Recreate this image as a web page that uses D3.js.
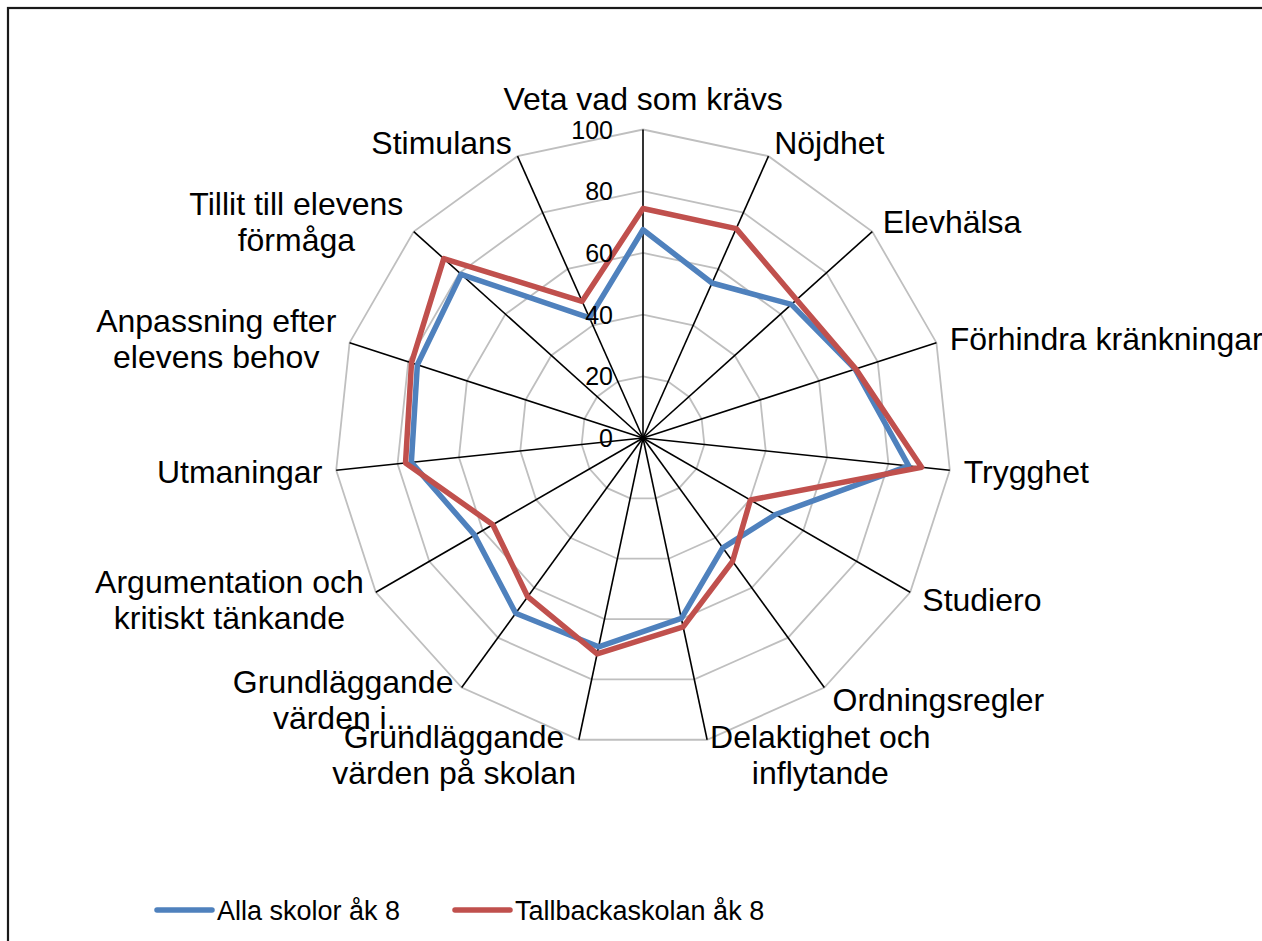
<!DOCTYPE html>
<html>
<head>
<meta charset="utf-8">
<script src="https://cdn.jsdelivr.net/npm/d3@7"></script>
<style>
  body { margin: 0; background: #ffffff; }
  svg { display: block; font-family: "Liberation Sans", Arial, sans-serif; }
</style>
</head>
<body>
<div id="radar"></div>
<script>
var categories = [
  "Veta vad som krävs",
  "Nöjdhet",
  "Elevhälsa",
  "Förhindra kränkningar",
  "Trygghet",
  "Studiero",
  "Ordningsregler",
  "Delaktighet och\ninflytande",
  "Grundläggande\nvärden på skolan",
  "Grundläggande\nvärden i...",
  "Argumentation och\nkritiskt tänkande",
  "Utmaningar",
  "Anpassning efter\nelevens behov",
  "Tillit till elevens\nförmåga",
  "Stimulans",
];

var alla_skolor = [67.5, 55, 64.7, 72.3, 86.6, 49.6, 44, 59.8, 69.2, 70.2, 63, 75.5, 76.9, 79.3, 42.6];
var tallbacka = [74.4, 74.3, 67, 72.5, 90.8, 40.2, 49.4, 62.6, 71.5, 63.6, 56.2, 77.4, 78.9, 86.9, 48.5];

var tick_values = [0, 20, 40, 60, 80, 100];

var series = [
  { name: "Alla skolor åk 8", values: alla_skolor, color: "#4f81bd" },
  { name: "Tallbackaskolan åk 8", values: tallbacka, color: "#c0504d" },
];

var width = 1262,
  height = 941,
  cx = 643,
  cy = 438,
  radius = 308.5;

var svg = d3
  .select("#radar")
  .append("svg")
  .attr("width", width)
  .attr("height", height)
  .attr("viewBox", [0, 0, width, height]);

// outer frame of the chart area
svg
  .append("rect")
  .attr("x", 8)
  .attr("y", 8)
  .attr("width", 1320)
  .attr("height", 1000)
  .attr("fill", "#ffffff")
  .attr("stroke", "#1a1a1a")
  .attr("stroke-width", 2.2);

var r = d3.scaleLinear().domain([0, 100]).range([0, radius]);
var angle = d3
  .scaleLinear()
  .domain([0, categories.length])
  .range([0, 2 * Math.PI]);

var g = svg.append("g").attr("transform", "translate(" + cx + "," + cy + ")");

var radial = d3
  .lineRadial()
  .angle((d, i) => angle(i))
  .radius((d) => r(d))
  .curve(d3.curveLinearClosed);

// grid rings
g.selectAll(".ring")
  .data(tick_values.filter((t) => t > 0))
  .enter()
  .append("path")
  .attr("class", "ring")
  .attr("d", (t) => radial(categories.map(() => t)))
  .attr("fill", "none")
  .attr("stroke", "#bfbfbf")
  .attr("stroke-width", 1.8);

// spokes
g.selectAll(".spoke")
  .data(categories)
  .enter()
  .append("line")
  .attr("class", "spoke")
  .attr("x1", 0)
  .attr("y1", 0)
  .attr("x2", (d, i) => r(100) * Math.sin(angle(i)))
  .attr("y2", (d, i) => -r(100) * Math.cos(angle(i)))
  .attr("stroke", "#000000")
  .attr("stroke-width", 1.6);

// series
g.selectAll(".series")
  .data(series)
  .enter()
  .append("path")
  .attr("class", "series")
  .attr("d", (s) => radial(s.values))
  .attr("fill", "none")
  .attr("stroke", (s) => s.color)
  .attr("stroke-width", 5.5)
  .attr("stroke-linejoin", "round");

// tick labels
g.selectAll(".tick-label")
  .data(tick_values)
  .enter()
  .append("text")
  .attr("class", "tick-label")
  .attr("x", -30)
  .attr("y", (t) => -r(t) + 9)
  .attr("text-anchor", "end")
  .attr("font-size", "25px")
  .attr("fill", "#000000")
  .text((t) => t);

// category labels, multi-line boxes placed just outside the spoke end
var line_h = 36,
  cap_h = 23;

categories.forEach(function (c, i) {
  var a = angle(i),
    s = Math.sin(a),
    co = Math.cos(a),
    ex = r(100) * s,
    ey = -r(100) * co,
    lines = c.split("\n");

  var label = g.append("g").attr("class", "cat-label");
  var texts = label
    .selectAll("text")
    .data(lines)
    .enter()
    .append("text")
    .attr("font-size", "32px")
    .attr("fill", "#000000")
    .attr("text-anchor", "middle")
    .text((d) => d);

  var box_w = d3.max(texts.nodes(), (n) => n.getComputedTextLength());
  var block = (lines.length - 1) * line_h + cap_h;

  var mid_x, center_y;
  if (s > 0.1) {
    mid_x = ex + 14 * s + box_w / 2;
    center_y = ey - 15 * co;
  } else if (s < -0.1) {
    mid_x = ex + 14 * s - box_w / 2;
    center_y = ey - 15 * co;
  } else {
    mid_x = ex;
    center_y = ey - co * (block / 2 + 20);
  }
  var first_base = center_y - block / 2 + cap_h;

  texts.attr("x", mid_x).attr("y", (d, j) => first_base + j * line_h);
});

// legend
var legend = svg
  .append("g")
  .selectAll("g")
  .data(series)
  .enter()
  .append("g")
  .attr("transform", (d, i) => "translate(" + (157 + i * 298) + ",910)");

legend
  .append("line")
  .attr("x1", 0)
  .attr("x2", 55)
  .attr("y1", 0)
  .attr("y2", 0)
  .attr("stroke", (d) => d.color)
  .attr("stroke-width", 5.5)
  .attr("stroke-linecap", "round");

legend
  .append("text")
  .attr("x", 60)
  .attr("y", 10)
  .attr("font-size", "27px")
  .attr("fill", "#000000")
  .text((d) => d.name);
</script>
</body>
</html>
